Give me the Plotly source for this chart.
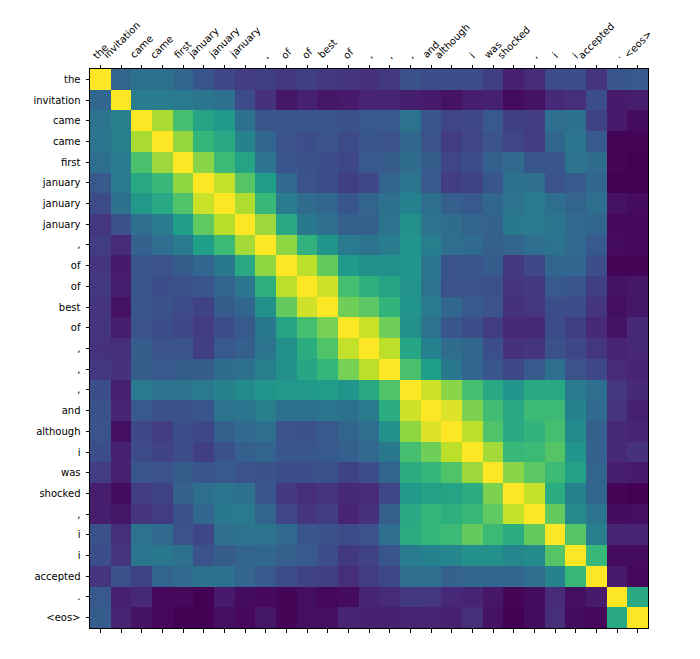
import plotly.graph_objects as go

tokens = ["the", "invitation", "came", "came", "first", "january", "january", "january", ",", "of", "of", "best", "of",
          ",", ",", ",", "and", "although", "i", "was", "shocked", ",", "i", "i", "accepted", ".", "<eos>"]

similarity = [
    [100,32,37,37,33,27,22,18,19,16,19,17,15,14,17,25,23,24,23,19,9,12,23,24,15,27,28],
    [33,100,42,42,41,39,37,23,14,6,9,6,7,10,10,8,7,5,8,9,3,5,11,13,24,7,8],
    [38,43,100,87,70,58,54,37,27,27,27,27,25,28,28,38,27,21,22,28,19,18,36,37,20,7,3],
    [39,43,87,100,84,66,60,45,33,26,24,26,23,27,26,33,26,18,21,26,21,18,33,39,28,1,1],
    [36,42,71,85,100,82,68,58,38,27,25,24,22,28,29,35,29,21,24,30,34,27,27,38,35,1,0],
    [28,41,60,67,83,100,91,73,55,34,26,24,19,22,32,39,28,18,20,27,37,36,26,28,33,0,0],
    [23,37,53,60,72,92,100,88,67,42,35,33,27,32,37,44,36,30,28,33,38,41,36,32,36,5,3],
    [16,25,36,42,55,75,89,100,85,60,40,36,30,30,38,50,38,35,32,31,40,41,39,34,33,2,2],
    [18,12,31,36,42,56,68,86,100,83,64,52,41,38,42,52,43,36,34,30,32,36,38,34,28,3,2],
    [15,7,27,26,29,33,40,60,83,100,90,76,54,50,50,52,39,26,27,29,17,22,33,33,24,1,1],
    [17,8,27,24,25,27,32,39,63,90,100,93,70,63,58,51,38,26,26,25,15,17,28,27,19,5,6],
    [15,5,27,25,23,20,29,33,50,76,93,100,78,74,65,52,41,33,28,26,14,16,24,23,15,4,6],
    [15,8,26,24,22,18,24,28,40,58,70,79,100,92,78,50,38,27,24,18,11,11,23,19,11,5,11],
    [14,13,29,26,26,19,28,30,38,50,62,72,91,100,90,59,44,35,33,24,14,15,25,22,16,10,11],
    [17,14,29,28,29,29,35,37,43,50,59,66,79,90,100,71,56,40,32,27,22,28,36,26,22,12,10],
    [24,9,41,38,38,41,45,48,52,53,53,55,52,60,72,100,93,82,70,60,52,60,60,42,36,16,11],
    [25,10,28,25,25,27,38,39,43,37,37,39,37,42,62,93,100,95,80,69,60,68,68,45,34,15,9],
    [26,4,22,18,24,22,30,34,36,26,25,28,32,36,50,83,95,100,90,72,60,65,70,48,30,11,10],
    [24,9,23,20,23,19,25,30,32,27,27,28,30,34,40,70,78,90,100,86,67,68,73,52,31,11,14],
    [18,9,27,26,29,27,28,26,25,24,24,25,20,24,32,62,66,72,85,100,82,74,68,57,32,8,7],
    [8,3,18,20,31,36,39,37,27,17,13,15,11,12,22,53,57,58,62,80,100,91,62,44,33,1,0],
    [8,6,15,18,25,33,40,41,32,21,15,18,10,14,30,60,66,63,67,75,91,100,76,47,38,3,4],
    [25,13,38,34,26,22,36,38,38,34,27,25,23,26,36,61,66,68,76,68,62,76,100,73,43,10,10],
    [24,15,39,40,37,26,29,32,33,30,28,24,17,20,27,42,44,46,50,50,46,48,73,100,67,3,3],
    [15,25,20,32,34,37,37,32,28,23,20,19,13,18,22,36,36,31,33,33,33,36,45,67,100,7,2],
    [28,9,11,2,2,0,7,3,2,1,4,2,3,10,12,17,16,11,10,6,1,3,12,4,7,100,60],
    [29,10,5,2,0,0,4,2,6,1,4,4,10,9,9,10,10,9,13,5,0,3,13,3,2,60,100],
]

positions = list(range(len(tokens)))

fig = go.Figure(go.Heatmap(
    z=similarity, x=positions, y=positions,
    colorscale="Viridis", zmin=0, zmax=100, showscale=False,
))

font = dict(family="DejaVu Sans", size=10, color="black")
fig.update_layout(
    width=700, height=659, autosize=False,
    margin=dict(l=0, r=0, t=0, b=0),
    paper_bgcolor="white", plot_bgcolor="white",
    font=font,
    xaxis=dict(
        domain=[82/700, 640/700], side="top", tickmode="array",
        tickvals=positions, showticklabels=False,
        ticks="outside", ticklen=3.5, tickwidth=1, tickcolor="black",
        showline=True, mirror="ticks", linecolor="black", linewidth=1,
        showgrid=False, zeroline=False, automargin=False,
        range=[-0.5, 26.5],
    ),
    yaxis=dict(
        domain=[1-620/659, 1-61/659], tickmode="array",
        tickvals=positions, ticktext=tokens,
        ticks="outside", ticklen=3.5, tickwidth=1, tickcolor="black",
        showline=True, mirror=True, linecolor="black", linewidth=1,
        showgrid=False, zeroline=False, tickfont=font, automargin=False,
        ticklabelstandoff=3, range=[26.5, -0.5],
    ),
    annotations=[
        dict(x=i, xref="x", y=1, yref="y domain", yshift=7, text=t.replace("<", "&lt;").replace(">", "&gt;"),
             textangle=-45, showarrow=False, xanchor="center", yanchor="bottom",
             borderpad=0, font=font)
        for i, t in enumerate(tokens)
    ],
)
fig.write_html("out.html")
